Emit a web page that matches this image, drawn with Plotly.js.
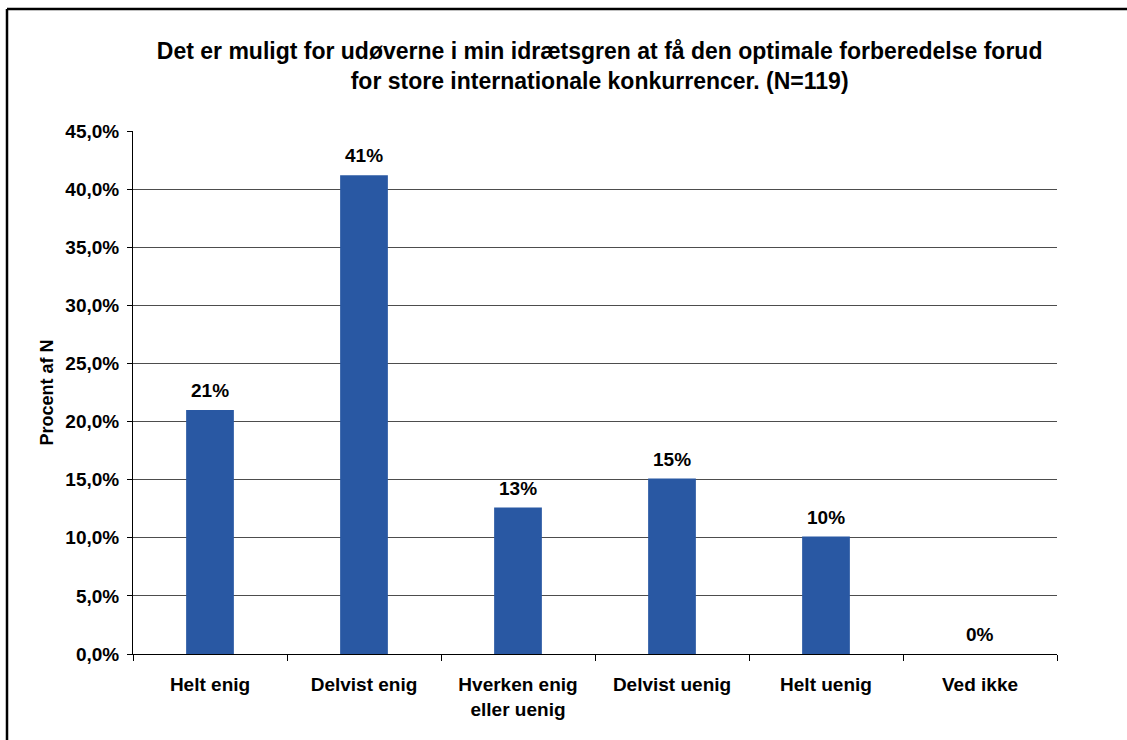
<!DOCTYPE html>
<html>
<head>
<meta charset="utf-8">
<script src="https://cdn.plot.ly/plotly-3.0.1.min.js"></script>
<style>html,body{margin:0;padding:0;background:#fff;}#chart{width:1127px;height:740px;}</style>
</head>
<body>
<div id="chart"></div>
<script>
const categories = ["Helt enig", "Delvist enig", "Hverken enig<br>eller uenig", "Delvist uenig", "Helt uenig", "Ved ikke"];
const values = [21.0, 41.2, 12.6, 15.1, 10.1, 0.0];
const valueLabels = ["21%", "41%", "13%", "15%", "10%", "0%"];
const yTickVals = [0, 5, 10, 15, 20, 25, 30, 35, 40, 45];
const yTickText = ["0,0%", "5,0%", "10,0%", "15,0%", "20,0%", "25,0%", "30,0%", "35,0%", "40,0%", "45,0%"];

const FONT = "Liberation Sans, Arial, sans-serif";

const trace = {
  type: "bar",
  x: categories,
  y: values,
  marker: {color: "#2958A3", line: {width: 0}},
  hoverinfo: "skip"
};

const annotations = categories.map((c, i) => ({
  x: c, y: values[i], xref: "x", yref: "y",
  text: "<b>" + valueLabels[i] + "</b>",
  showarrow: false, yanchor: "bottom", yshift: 7,
  font: {family: FONT, size: 19, color: "#000"}
}));

const layout = {
  width: 1127, height: 740,
  margin: {l: 133, r: 70, t: 131, b: 86},
  paper_bgcolor: "#fff", plot_bgcolor: "#fff",
  font: {family: FONT, size: 19, color: "#000"},
  showlegend: false,
  bargap: 0.69,
  title: {
    text: "<b>Det er muligt for udøverne i min idrætsgren at få den optimale forberedelse forud<br>for store internationale konkurrencer. (N=119)</b>",
    font: {family: FONT, size: 23, color: "#000"},
    x: 0.505, xref: "paper", y: 0.92, yref: "container", yanchor: "middle"
  },
  xaxis: {
    type: "category",
    tickson: "boundaries",
    ticks: "outside", ticklen: 6, tickcolor: "#000", tickwidth: 1,
    showline: true, linecolor: "#000", linewidth: 1,
    showgrid: false,
    tickfont: {family: FONT, size: 19, color: "#000", weight: "bold"},
    ticklabelstandoff: 13,
    fixedrange: true
  },
  yaxis: {
    range: [0, 45],
    tickvals: yTickVals, ticktext: yTickText,
    ticks: "outside", ticklen: 5, tickcolor: "#000", tickwidth: 1,
    showline: true, linecolor: "#000", linewidth: 1,
    showgrid: true, gridcolor: "#4d4d4d", gridwidth: 1,
    zeroline: false,
    tickfont: {family: FONT, size: 19, color: "#000", weight: "bold"},
    ticklabelstandoff: 4,
    title: {text: "<b>Procent af N</b>", font: {family: FONT, size: 18, color: "#000"}, standoff: 7},
    fixedrange: true
  },
  annotations: annotations,
  shapes: [
    {type: "line", xref: "paper", yref: "paper", x0: (7 - 133) / 924, x1: 1.2, y0: 1 + (131 - 9) / 523, y1: 1 + (131 - 9) / 523, line: {color: "#000", width: 2.5}},
    {type: "line", xref: "paper", yref: "paper", x0: (7 - 133) / 924, x1: (7 - 133) / 924, y0: 1 + (131 - 9) / 523, y1: -0.3, line: {color: "#000", width: 2.5}}
  ]
};

Plotly.newPlot("chart", [trace], layout, {displayModeBar: false, staticPlot: true});
</script>
</body>
</html>
